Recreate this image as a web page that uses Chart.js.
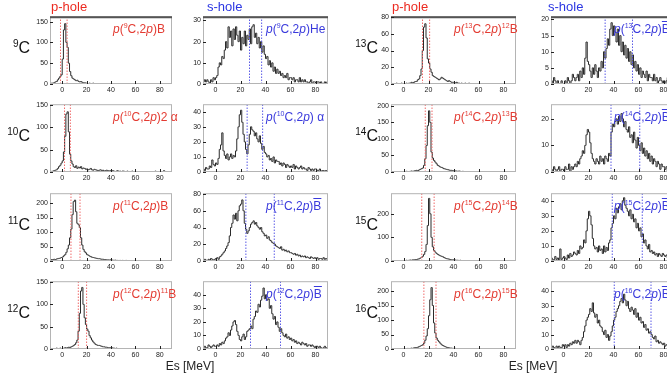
<!DOCTYPE html>
<html>
<head>
<meta charset="utf-8">
<script src="https://cdn.jsdelivr.net/npm/chart.js@4"></script>
<style>
  body { margin: 0; width: 667px; height: 377px; overflow: hidden; background: #fff; position: relative;
         font-family: "Liberation Sans", Arial, sans-serif; }
  canvas { position: absolute; }
  .t { position: absolute; white-space: nowrap; }
  .rx { font-size: 12px; line-height: 14px; }
  .rx sup { font-size: 7px; vertical-align: 5px; line-height: 0; }
  .ob { text-decoration: overline; }
  .nuc { font-size: 16px; line-height: 16px; width: 40px; text-align: right; color: #111; }
  .nuc sup { font-size: 10px; vertical-align: 6px; line-height: 0; }
  .hd { font-size: 13px; line-height: 13px; }
  .es { font-size: 12px; line-height: 14px; width: 80px; text-align: center; color: #222; }
</style>
</head>
<body>
<script>
// histograms: 1 MeV bins from -10 to 90
const xMin = -10, xMax = 90, binW = 1;
const xTicks = [0, 20, 40, 60, 80];

const c9p = [
  1,2,2,3,5,6,10,14,18,22,
  60,130,145,100,88,50,30,20,14,12,
  10,8,9,6,5,6,4,3,3,2,
  2,1,2,1,0,2,1,0,1,0,
  0,1,0,0,1,0,0,0,0,0,
  0,0,0,1,0,0,0,0,0,0,
  0,0,0,0,0,0,0,0,0,0,
  0,0,0,0,0,0,0,0,0,0,
  0,0,0,0,0,0,0,0,0,0,
  0,0,0,0,0,0,0,0,0,0];
const c9s = [
  1,2,1,2,1,0,2,1,3,2,
  3,4,8,10,9,13,12,16,20,17,
  27,22,25,18,26,21,27,23,20,25,
  16,22,19,25,18,23,21,26,19,27,
  28,22,24,19,22,17,20,15,18,14,
  12,13,9,11,8,10,6,8,5,7,
  5,6,4,5,3,4,3,5,2,3,
  3,2,3,1,2,2,1,3,1,2,
  1,2,1,1,0,1,2,0,1,1,
  0,1,1,0,1,0,0,1,0,1];
const c13p = [
  0,0,0,0,1,0,0,0,1,0,
  0,0,1,0,1,1,2,1,2,3,
  3,5,6,10,18,40,68,72,55,30,
  25,18,14,10,9,8,7,6,5,6,
  8,7,6,5,4,3,4,3,2,2,
  2,1,2,1,1,0,1,0,0,1,
  0,0,1,0,0,0,0,0,0,0,
  0,0,0,0,0,0,0,0,0,0,
  0,0,0,0,0,0,0,0,0,0,
  0,0,0,0,0,0,0,0,0,0];
const c13s = [
  1,0,2,1,0,1,0,0,1,0,
  0,1,0,2,1,0,1,3,2,1,
  2,3,1,4,2,5,3,8,13,7,
  6,4,2,5,3,6,4,2,5,4,
  7,5,10,8,11,14,12,17,19,15,
  18,16,13,17,12,15,10,13,9,12,
  8,11,7,10,6,9,5,7,4,6,
  3,5,2,4,3,2,4,1,3,2,
  2,1,3,1,2,0,1,2,1,0,
  1,0,1,2,0,1,0,0,1,0];
const c10p = [
  2,1,2,3,4,5,8,12,15,20,
  25,45,80,130,135,90,40,25,18,12,
  10,14,8,11,9,12,7,9,8,6,
  7,5,6,8,5,4,6,5,4,3,
  4,5,3,4,2,3,4,3,2,3,
  2,3,2,1,2,3,1,2,1,2,
  2,1,1,2,1,0,1,2,1,0,
  1,0,1,1,0,1,0,0,1,0,
  0,1,0,0,1,0,2,0,1,0,
  0,1,0,3,0,0,1,0,0,1];
const c10s = [
  2,1,3,2,2,4,3,8,5,4,
  6,5,9,15,18,26,14,11,9,12,
  8,10,12,9,11,10,14,22,30,38,
  41,33,25,20,15,12,18,25,30,28,
  27,24,26,22,20,24,19,15,17,13,
  12,10,11,8,9,7,10,6,8,7,
  7,5,6,4,6,5,3,5,4,3,
  4,3,5,2,4,3,2,3,4,2,
  3,2,2,1,3,2,1,2,1,2,
  2,1,1,2,0,1,1,0,1,0];
const c14p = [
  0,1,0,0,1,0,0,1,0,0,
  1,0,2,1,1,2,3,2,3,4,
  5,4,6,8,10,12,20,40,80,140,
  185,150,60,42,35,30,25,20,18,15,
  14,12,10,9,8,7,6,5,5,4,
  4,3,3,2,3,2,1,2,1,1,
  1,0,1,0,0,1,0,0,0,0,
  0,0,0,0,0,0,0,0,0,0,
  0,0,0,0,0,0,0,0,0,0,
  0,0,0,0,0,0,0,0,0,0];
const c14s = [
  1,0,2,1,0,1,2,0,1,1,
  0,2,1,1,3,0,2,1,2,3,
  2,4,3,5,6,8,7,10,14,16,
  15,11,7,5,4,3,5,4,3,6,
  4,5,3,6,5,4,7,6,15,18,
  17,19,20,18,21,19,22,20,17,19,
  16,15,17,13,14,11,15,12,9,13,
  10,8,11,7,9,6,8,5,7,4,
  6,3,5,4,2,4,3,1,3,2,
  2,1,2,0,1,2,0,1,1,0];
const c11p = [
  3,5,4,6,5,7,8,9,10,12,
  14,18,22,30,42,55,80,110,160,205,
  210,170,130,125,115,80,55,40,32,28,
  22,20,17,15,13,12,11,10,9,8,
  8,7,6,6,5,5,4,4,3,4,
  3,3,2,3,2,2,1,2,1,2,
  1,1,2,1,1,0,1,1,0,1,
  0,1,0,0,1,0,0,1,0,0,
  0,0,1,0,0,0,1,0,0,0,
  0,0,0,1,0,0,0,0,0,0];
const c11s = [
  1,2,1,0,2,1,3,2,1,2,
  3,4,2,5,6,8,10,12,15,18,
  22,30,40,45,55,50,57,48,60,66,
  68,73,60,45,38,33,36,40,44,46,
  48,44,46,42,40,38,40,35,33,30,
  31,27,29,25,24,22,21,20,18,17,
  16,15,17,13,14,12,13,11,12,10,
  10,9,8,9,7,8,6,7,5,6,
  5,6,4,5,4,3,5,4,3,4,
  3,4,2,3,3,2,4,2,3,2];
const c15p = [
  1,0,1,0,2,1,0,1,2,1,
  2,1,3,2,3,4,3,5,4,6,
  6,8,9,12,15,20,28,40,70,150,
  265,200,100,60,45,38,32,28,25,22,
  20,18,15,12,10,9,8,6,5,5,
  4,4,3,3,2,3,2,1,2,1,
  1,1,0,1,0,0,1,0,0,0,
  0,0,0,0,0,0,0,0,0,0,
  0,0,0,0,0,0,0,0,0,0,
  0,0,0,0,0,0,0,0,0,0];
const c15s = [
  2,0,1,3,1,2,0,8,1,2,
  3,2,1,4,2,5,3,4,6,5,
  4,7,5,10,8,9,14,12,20,28,
  33,30,24,15,10,8,9,6,10,7,
  8,5,10,6,9,7,12,14,22,25,
  30,28,35,32,36,38,34,40,42,37,
  35,33,30,34,28,31,26,28,22,25,
  20,22,16,18,12,14,10,8,11,6,
  7,5,6,4,5,3,5,4,3,5,
  4,3,4,2,3,2,3,1,2,2];
const c12p = [
  1,0,1,1,0,2,1,1,2,1,
  2,1,3,2,3,4,3,5,6,8,
  10,14,20,40,80,130,138,100,70,55,
  45,40,30,25,20,16,13,10,9,8,
  8,7,6,5,5,4,4,3,3,3,
  3,2,2,1,2,1,1,1,0,1,
  1,0,0,1,0,0,0,1,0,0,
  0,0,0,0,0,0,0,0,0,0,
  0,0,0,0,0,0,0,0,0,0,
  0,0,0,0,0,0,0,0,0,0];
const c12s = [
  1,2,1,1,3,2,1,2,3,2,
  2,3,2,4,3,5,4,6,8,9,
  12,10,14,17,20,21,18,13,10,7,
  6,9,11,7,9,13,14,15,17,15,
  22,24,28,27,33,31,36,39,45,37,
  40,36,37,30,32,26,22,24,18,20,
  16,13,15,12,10,9,11,8,9,7,
  8,6,7,5,6,4,5,4,3,5,
  4,3,4,2,3,3,2,3,2,1,
  2,2,1,2,1,0,1,2,1,0];
const c16p = [
  0,1,0,0,1,0,1,0,0,1,
  1,0,1,2,1,2,3,2,4,5,
  5,6,8,10,12,15,20,30,45,70,
  115,170,212,150,90,55,38,30,25,20,
  15,12,10,8,6,5,4,3,3,2,
  2,2,1,1,1,0,1,0,1,0,
  0,1,0,0,0,0,0,0,0,0,
  0,0,0,0,0,0,0,0,0,0,
  0,0,0,0,0,0,0,0,0,0,
  0,0,0,0,0,0,0,0,0,0];
const c16s = [
  1,2,1,0,2,1,2,1,1,3,
  2,3,1,3,2,4,3,5,4,6,
  4,6,5,3,6,8,12,16,20,22,
  24,28,26,32,25,22,24,18,20,16,
  15,12,10,13,8,10,6,9,12,16,
  20,22,26,28,30,33,35,32,38,34,
  30,33,28,26,29,27,24,28,22,25,
  20,22,18,19,15,17,13,14,11,12,
  10,8,7,9,5,6,4,5,4,3,
  4,2,3,3,2,1,2,1,2,1];

// panel order: row by row, columns = p-hole, s-hole, p-hole, s-hole
const hists = [c9p, c9s, c13p, c13s, c10p, c10s, c14p, c14s,
               c11p, c11s, c15p, c15s, c12p, c12s, c16p, c16s];
const yMax = [163, 32, 81, 21, 152, 45, 205, 25.5, 234, 81, 287, 45, 152, 50, 234, 47];
const yTicks = [
  [0, 50, 100, 150], [0, 10, 20, 30], [0, 20, 40, 60, 80], [0, 5, 10, 15, 20],
  [0, 50, 100, 150], [0, 10, 20, 30, 40], [0, 50, 100, 150, 200], [0, 10, 20],
  [0, 50, 100, 150, 200], [0, 20, 40, 60, 80], [0, 100, 200], [0, 10, 20, 30, 40],
  [0, 50, 100, 150], [0, 10, 20, 30, 40], [0, 50, 100, 150, 200], [0, 10, 20, 30, 40]];
const cutLo = [-1.4, 27.2, 15.2, 33.3, 1.9, 25.3, 17.4, 38, 7.2, 24.3, 14.6, 39, 13.2, 28, 16.3, 40.6];
const cutHi = [4, 36.9, 20.9, 55.2, 6.7, 37.7, 22.8, 61, 14.6, 47, 24.5, 63, 20, 52, 26, 70];

const bar = '<span class="ob">B</span>';
const reactions = [
  'B', 'He', '<sup>12</sup>B', bar,
  '2 &alpha;', ' &alpha;', '<sup>13</sup>B', bar,
  'B', bar, '<sup>14</sup>B', bar,
  '<sup>11</sup>B', bar, '<sup>15</sup>B', bar];
const targets = ['9', '9', '13', '13', '10', '10', '14', '14', '11', '11', '15', '15', '12', '12', '16', '16'];

// layout
const colX = [50, 203, 391, 551];
const colW = [122, 125, 125, 125];
const rowY = [15, 103, 192, 280];
const boxH = 69;
const padT = 5, padR = 5, axW = 30, axH = 12;
const red = '#e33b32', blue = '#3a3adc';
const tickFont = { family: '"Liberation Sans", Arial, sans-serif', size: 7 };

const frame = {
  id: 'frame',
  afterDraw(chart, args, opts) {
    const { ctx, chartArea: a, scales: { x, y } } = chart;
    ctx.save();
    ctx.strokeStyle = '#b4b4b4';
    ctx.lineWidth = 1;
    ctx.strokeRect(a.left + 0.5, a.top + 0.5, a.right - a.left - 1, a.bottom - a.top - 1);
    if (opts.topRow) {
      ctx.strokeStyle = '#555';
      ctx.lineWidth = 2;
      ctx.beginPath();
      ctx.moveTo(a.left, a.top + 1);
      ctx.lineTo(a.right, a.top + 1);
      ctx.stroke();
    }
    ctx.strokeStyle = '#222';
    ctx.lineWidth = 1;
    ctx.beginPath();
    y.ticks.forEach(t => {
      const py = Math.round(y.getPixelForValue(t.value)) + 0.5;
      ctx.moveTo(a.left, py); ctx.lineTo(a.left + 3, py);
    });
    x.ticks.forEach(t => {
      const px = Math.round(x.getPixelForValue(t.value)) + 0.5;
      ctx.moveTo(px, a.bottom); ctx.lineTo(px, a.bottom - 3);
    });
    ctx.stroke();
    ctx.restore();
  }
};

function addText(cls, html, left, top, color) {
  const d = document.createElement('div');
  d.className = 't ' + cls;
  d.innerHTML = html;
  d.style.left = left + 'px';
  d.style.top = top + 'px';
  if (color) d.style.color = color;
  document.body.appendChild(d);
  return d;
}

hists.forEach((hist, k) => {
  const r = Math.floor(k / 4), c = k % 4;
  const isP = c % 2 === 0;
  const cutColor = isP ? '#f06a6a' : '#5a5ae6';

  const cv = document.createElement('canvas');
  cv.width = axW + colW[c] + padR;
  cv.height = padT + boxH + axH;
  cv.style.left = (colX[c] - axW) + 'px';
  cv.style.top = (rowY[r] - padT) + 'px';
  document.body.appendChild(cv);

  const pts = hist.map((v, i) => ({ x: xMin + (i + 0.5) * binW, y: v }));
  pts.unshift({ x: xMin, y: hist[0] });
  pts.push({ x: xMax, y: hist[hist.length - 1] });

  const cut = v => ({
    data: [{ x: v, y: 0 }, { x: v, y: yMax[k] }],
    borderColor: cutColor, borderWidth: 1, borderDash: [1.5, 1.5], pointRadius: 0
  });

  new Chart(cv, {
    type: 'line',
    data: {
      datasets: [
        cut(cutLo[k]), cut(cutHi[k]),
        { data: pts, stepped: 'middle', borderColor: '#2b2b2b', borderWidth: 1, pointRadius: 0 }
      ]
    },
    options: {
      responsive: false, animation: false, devicePixelRatio: 1,
      layout: { padding: { top: padT, right: padR, left: 0, bottom: 0 } },
      plugins: { legend: { display: false }, tooltip: { enabled: false }, frame: { topRow: r === 0 } },
      scales: {
        x: {
          type: 'linear', min: xMin, max: xMax,
          grid: { display: false, drawTicks: false }, border: { display: false },
          afterBuildTicks: s => { s.ticks = xTicks.map(v => ({ value: v })); },
          afterFit: s => { s.height = axH; },
          ticks: { font: tickFont, color: '#222', padding: 2, maxRotation: 0, autoSkip: false }
        },
        y: {
          type: 'linear', min: 0, max: yMax[k],
          grid: { display: false, drawTicks: false }, border: { display: false },
          afterBuildTicks: s => { s.ticks = yTicks[k].map(v => ({ value: v })); },
          afterFit: s => { s.width = axW; },
          ticks: { font: tickFont, color: '#222', padding: 2, autoSkip: false }
        }
      }
    },
    plugins: [frame]
  });

  addText('rx', '<i>p</i>(<sup>' + targets[k] + '</sup>C,2<i>p</i>)' + reactions[k],
          colX[c] + 63, rowY[r] + 7, isP ? red : blue);
});

// isotope names at the left of each group
rowY.forEach((y, r) => {
  addText('nuc', '<sup>' + targets[r * 4] + '</sup>C', 30 - 40, y + 25);
  addText('nuc', '<sup>' + targets[r * 4 + 2] + '</sup>C', 378 - 40, y + 25);
});

addText('hd', 'p-hole', 51, 0, '#ec2a20');
addText('hd', 's-hole', 207, 0, '#2b36e2');
addText('hd', 'p-hole', 392, 0, '#ec2a20');
addText('hd', 's-hole', 548, 0, '#2b36e2');

addText('es', 'Es [MeV]', 190 - 40, 359);
addText('es', 'Es [MeV]', 533 - 40, 359);
</script>
</body>
</html>
